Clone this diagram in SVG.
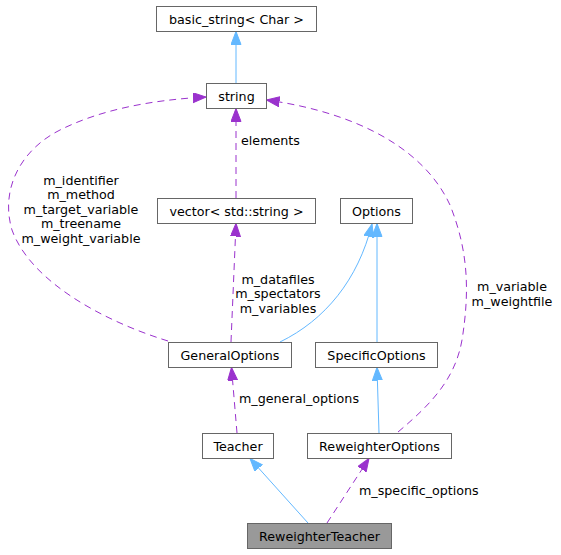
<svg xmlns="http://www.w3.org/2000/svg" width="561" height="555" viewBox="0 0 561 555">
<style>
text{font-family:"DejaVu Sans","Liberation Sans",sans-serif;font-size:12.7px;fill:#000}
.n rect{fill:#fff;stroke:#666;stroke-width:1}
.n text{text-anchor:middle}
.inh{fill:none;stroke:#63b8ff;stroke-width:1}
.use{fill:none;stroke:#9a32cd;stroke-width:1;stroke-dasharray:7,5}
.lbl{text-anchor:middle}
</style>
<defs>
<marker id="ab" markerUnits="userSpaceOnUse" markerWidth="15" markerHeight="12" refX="13" refY="5" orient="auto">
<path d="M0,0 L13,5 L0,10 Z" fill="#63b8ff" stroke="#63b8ff"/>
</marker>
<marker id="ap" markerUnits="userSpaceOnUse" markerWidth="15" markerHeight="12" refX="13" refY="5" orient="auto">
<path d="M0,0 L13,5 L0,10 Z" fill="#9a32cd" stroke="#9a32cd"/>
</marker>
</defs>
<g id="edges">
<path class="inh" d="M236,83 L236,31.5" marker-end="url(#ab)"/>
<path class="use" d="M236,198 L236,108.5" marker-end="url(#ap)"/>
<path class="use" d="M168,341 C100,320 30,280 12,230 C0,190 20,150 60,130 C100,110 150,100 206,97" marker-end="url(#ap)"/>
<path class="use" d="M231,342 L236,223.5" marker-end="url(#ap)"/>
<path class="inh" d="M280,342 C325,320 358,280 372,224" marker-end="url(#ab)"/>
<path class="inh" d="M377,342 L377,223.5" marker-end="url(#ab)"/>
<path class="use" d="M398,432 C430,405 455,380 462,340 C470,290 468,250 450,205 C420,140 340,110 266.5,100" marker-end="url(#ap)"/>
<path class="use" d="M237,433 L231.5,367.5" marker-end="url(#ap)"/>
<path class="inh" d="M379,433 L377,367.5" marker-end="url(#ab)"/>
<path class="inh" d="M308,523 L250,458.5" marker-end="url(#ab)"/>
<path class="use" d="M327,523 L369,458.5" marker-end="url(#ap)"/>
<text x="241" y="145.3">elements</text>
<text class="lbl" x="81" y="184.5">m_identifier</text>
<text class="lbl" x="81" y="199.1">m_method</text>
<text class="lbl" x="81" y="213.7">m_target_variable</text>
<text class="lbl" x="81" y="228.3">m_treename</text>
<text class="lbl" x="81" y="242.9">m_weight_variable</text>
<text class="lbl" x="278" y="283.5">m_datafiles</text>
<text class="lbl" x="278" y="298.1">m_spectators</text>
<text class="lbl" x="278" y="312.7">m_variables</text>
<text class="lbl" x="512" y="291.3">m_variable</text>
<text class="lbl" x="512" y="305.9">m_weightfile</text>
<text x="239" y="403">m_general_options</text>
<text x="359" y="494.6">m_specific_options</text>
</g>
<g id="basic_string" class="n"><rect x="156.5" y="6.5" width="160" height="25"/><text x="236.5" y="23.5">basic_string&lt; Char &gt;</text></g>
<g id="string" class="n"><rect x="206.5" y="83.5" width="60" height="25"/><text x="236.5" y="100.5">string</text></g>
<g id="vector" class="n"><rect x="157.5" y="198.5" width="158" height="25"/><text x="236.5" y="215.5">vector&lt; std::string &gt;</text></g>
<g id="Options" class="n"><rect x="340.5" y="198.5" width="72" height="25"/><text x="376.5" y="215.5">Options</text></g>
<g id="GeneralOptions" class="n"><rect x="168.5" y="342.5" width="123" height="25"/><text x="230" y="359.5">GeneralOptions</text></g>
<g id="SpecificOptions" class="n"><rect x="315.5" y="342.5" width="122" height="25"/><text x="376.5" y="359.5">SpecificOptions</text></g>
<g id="Teacher" class="n"><rect x="202.5" y="433.5" width="71" height="25"/><text x="238" y="450.5">Teacher</text></g>
<g id="ReweighterOptions" class="n"><rect x="307.5" y="433.5" width="144" height="25"/><text x="379.5" y="450.5">ReweighterOptions</text></g>
<g id="ReweighterTeacher" class="n"><rect x="247.5" y="523.5" width="144" height="25" style="fill:#999"/><text x="319.5" y="540.5">ReweighterTeacher</text></g>
</svg>
